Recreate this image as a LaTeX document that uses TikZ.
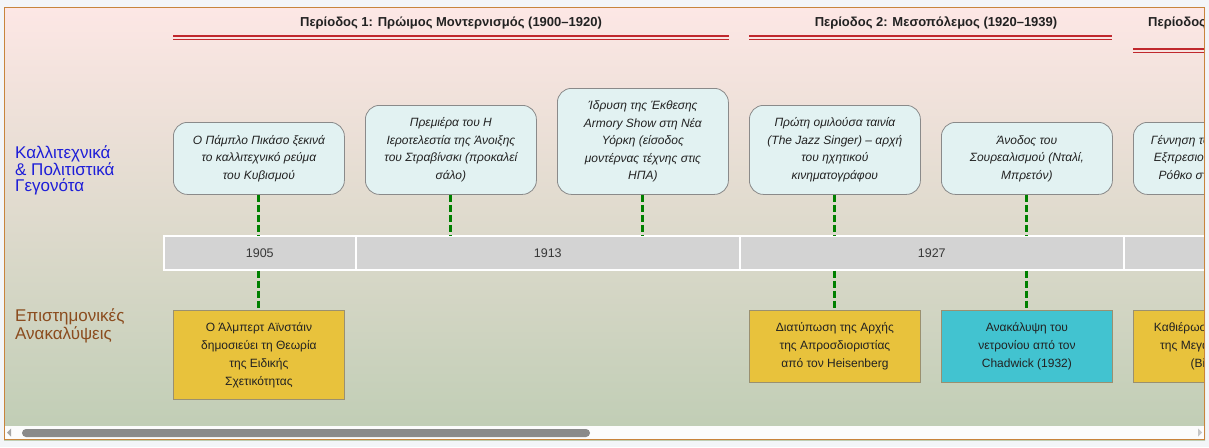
\documentclass[tikz,border=0pt]{standalone}
\usepackage{fontspec}
\setmainfont{Liberation Sans}
\definecolor{pagebg}{HTML}{F3F5F8}
\definecolor{bgtop}{HTML}{FDE7E5}
\definecolor{bgbot}{HTML}{BFCDB4}
\definecolor{framecol}{HTML}{C8843C}
\definecolor{perred}{HTML}{C0282D}
\definecolor{evfill}{HTML}{E2F2F2}
\definecolor{evdraw}{HTML}{8A8A8A}
\definecolor{goldfill}{HTML}{E8C23C}
\definecolor{cyanfill}{HTML}{42C3D0}
\definecolor{sqdraw}{HTML}{9A9070}
\definecolor{barfill}{HTML}{D3D3D3}
\definecolor{conncol}{HTML}{008000}
\definecolor{artblue}{HTML}{1E1ED8}
\definecolor{scibrown}{HTML}{8B4C1E}
\definecolor{txt}{HTML}{222222}
\definecolor{thumb}{HTML}{8A8A8A}
\tikzset{
  evbox/.style={draw=evdraw, fill=evfill, rounded corners=14pt, line width=0.8pt,
    minimum width=171pt, inner sep=0pt, align=center, anchor=north west, text=txt,
    font=\fontsize{12}{17.5}\selectfont\itshape},
  scibox/.style={draw=sqdraw, line width=0.8pt, minimum width=171pt, inner sep=0pt,
    align=center, anchor=north west, text=txt, font=\fontsize{12}{18}\selectfont},
  barseg/.style={draw=white, fill=barfill, line width=1.5pt, minimum height=34pt,
    inner sep=0pt, anchor=north west, text=txt!90, font=\fontsize{12.5}{14}\selectfont},
  pertitle/.style={inner sep=0pt, text=txt, font=\fontsize{13}{15}\selectfont\bfseries},
  perline/.style={draw=perred, line width=1.1pt},
  conn/.style={draw=conncol, line width=3pt, dash pattern=on 7pt off 3pt},
  rowlabel/.style={inner sep=0pt, align=left, anchor=west, font=\fontsize{17}{15.5}\selectfont},
}
\begin{document}
\begin{tikzpicture}[x=1pt,y=-1pt]
\useasboundingbox (0,0) rectangle (1209,447);
\fill[pagebg] (0,0) rectangle (1209,447);
\shade[top color=bgtop, bottom color=bgbot] (4,7) rectangle (1205,440);
\fill[white!98!gray] (5,426) rectangle (1204,439);
\begin{scope}
\clip (5,8) rectangle (1204,426);
% period titles
\node[pertitle] (p1) at (451,23) {Περίοδος 1: Πρώιμος Μοντερνισμός (1900–1920)};
\node[pertitle] (p2) at (936,23) {Περίοδος 2: Μεσοπόλεμος (1920–1939)};
\node[pertitle, anchor=west] (p3) at (1148,23) {Περίοδος 3: Μεταπολεμική Εποχή (1945–1970)};
\draw[perline] (173,36) -- (729,36) (173,39.5) -- (729,39.5);
\draw[perline] (749,36) -- (1112,36) (749,39.5) -- (1112,39.5);
\draw[perline] (1133,49) -- (1300,49) (1133,52.5) -- (1300,52.5);
% row labels
\node[rowlabel, text=artblue] (lab1) at (15,170) {Καλλιτεχνικά\\\& Πολιτιστικά\\Γεγονότα};
\node[rowlabel, text=scibrown] (lab2) at (15,326) {Επιστημονικές\\Ανακαλύψεις};
% timeline bar
\node[barseg, minimum width=192pt] (s1) at (163,235) {1905};
\node[barseg, minimum width=384pt] (s2) at (355,235) {1913};
\node[barseg, minimum width=384pt] (s3) at (739,235) {1927};
\node[barseg, minimum width=384pt] (s4) at (1123,235) {};
% top events
\node[evbox, minimum height=72pt] (e1) at (173,122) {Ο Πάμπλο Πικάσο ξεκινά\\το καλλιτεχνικό ρεύμα\\του Κυβισμού};
\node[evbox, minimum height=89pt] (e2) at (365,105) {Πρεμιέρα του Η\\Ιεροτελεστία της Άνοιξης\\του Στραβίνσκι (προκαλεί\\σάλο)};
\node[evbox, minimum height=106pt] (e3) at (557,88) {Ίδρυση της Έκθεσης\\Armory Show στη Νέα\\Υόρκη (είσοδος\\μοντέρνας τέχνης στις\\ΗΠΑ)};
\node[evbox, minimum height=89pt] (e4) at (749,105) {Πρώτη ομιλούσα ταινία\\(The Jazz Singer) – αρχή\\του ηχητικού\\κινηματογράφου};
\node[evbox, minimum height=72pt] (e5) at (941,122) {Άνοδος του\\Σουρεαλισμού (Νταλί,\\Μπρετόν)};
\node[evbox, minimum height=72pt] (e6) at (1133,122) {Γέννηση του Αφηρημένου\\Εξπρεσιονισμού (Πόλοκ,\\Ρόθκο στη Νέα Υόρκη)};
% bottom discoveries
\node[scibox, fill=goldfill, minimum height=89pt] (d1) at (173,310) {Ο Άλμπερτ Αϊνστάιν\\δημοσιεύει τη Θεωρία\\της Ειδικής\\Σχετικότητας};
\node[scibox, fill=goldfill, minimum height=72pt] (d2) at (749,310) {Διατύπωση της Αρχής\\της Απροσδιοριστίας\\από τον Heisenberg};
\node[scibox, fill=cyanfill, minimum height=72pt] (d3) at (941,310) {Ανακάλυψη του\\νετρονίου από τον\\Chadwick (1932)};
\node[scibox, fill=goldfill, minimum height=72pt] (d4) at (1133,310) {Καθιέρωση της Θεωρίας\\της Μεγάλης Έκρηξης\\(Big Bang)};
% connectors
\draw[conn] (e1.south) -- (e1.south |- s1.north);
\draw[conn] (e2.south) -- (e2.south |- s2.north);
\draw[conn] (e3.south) -- (e3.south |- s2.north);
\draw[conn] (e4.south) -- (e4.south |- s3.north);
\draw[conn] (e5.south) -- (e5.south |- s3.north);
\draw[conn] (d1.north |- s1.south) -- (d1.north);
\draw[conn] (d2.north |- s3.south) -- (d2.north);
\draw[conn] (d3.north |- s3.south) -- (d3.north);
\end{scope}
% scrollbar
\fill[thumb, rounded corners=4pt] (22,429) rectangle (590,437);
\fill[gray!70] (7,432.5) -- (11,428.5) -- (11,436.5) -- cycle;
\fill[gray!45] (1202,432.5) -- (1198,428.5) -- (1198,436.5) -- cycle;
% frame
\draw[framecol, line width=1pt] (4.5,7.5) rectangle (1204.5,439.5);
\end{tikzpicture}
\end{document}
